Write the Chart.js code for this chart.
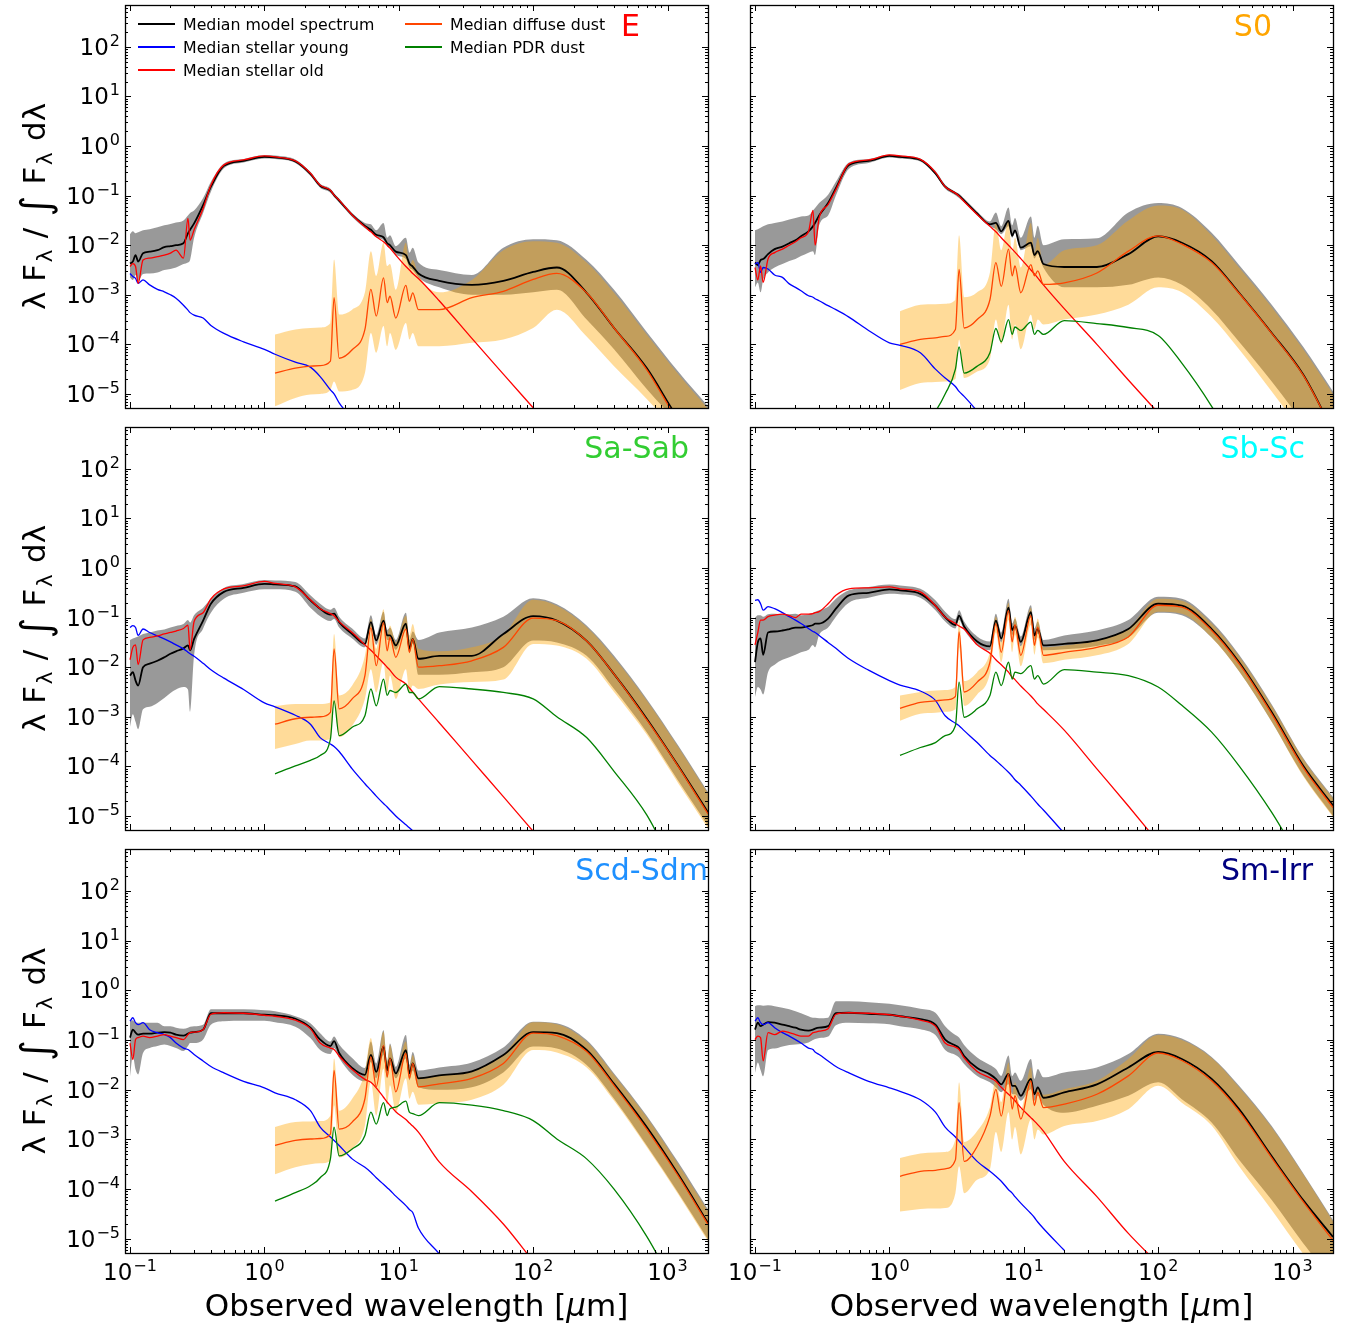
<!DOCTYPE html>
<html>
<head>
<meta charset="utf-8">
<title>Median SEDs per morphological type</title>
<script src="https://cdn.jsdelivr.net/npm/chart.js@4.4.1/dist/chart.umd.min.js"></script>
<style>
  body { margin: 0; background: #fff; }
  #wrap { position: relative; width: 1346px; height: 1324px; overflow: hidden; }
  #wrap canvas { position: absolute; }
</style>
</head>
<body>
<div id="wrap"></div>
<script>
// wavelength grid (micron) for the total model and the stellar components
const WL = [
  0.1, 0.105, 0.11, 0.115, 0.125, 0.14, 0.16, 0.18, 0.2, 0.22,
  0.25, 0.27, 0.28, 0.3, 0.35, 0.4, 0.5, 0.7, 1.0, 1.2,
  1.7, 2.2, 2.6, 3.1, 3.3, 3.6, 4.5, 5.6, 6.2, 6.8,
  7.7, 8.2, 8.6, 9.5, 11.3, 12.0, 12.7, 14, 20, 35,
  60, 100, 150, 250, 400, 700, 1200, 2000
];
// wavelength grid (micron) for the dust components, they start at ~1.2 micron
const WL_DUST = [
  1.2, 1.7, 2.2, 2.6, 3.1, 3.3, 3.6, 4.5, 5.6, 6.2,
  6.8, 7.7, 8.2, 8.6, 9.5, 11.3, 12.0, 12.7, 14, 20,
  35, 60, 100, 150, 250, 400, 700, 1200, 2000
];

// tick labels (powers of ten)
const X_TICK_EXP = [-1, 0, 1, 2, 3];
const Y_TICK_EXP = [-5, -4, -3, -2, -1, 0, 1, 2];

// all series below: log10( lambda F_lambda / int F_lambda dlambda )
// ---------- E ----------
const E_model = [
  -2.37, -2.33, -2.20, -2.33, -2.16, -2.13, -2.10, -2.04, -2.02, -2.00,
  -1.96, -1.76, -1.69, -1.56, -1.19, -0.82, -0.40, -0.30, -0.22, -0.23,
  -0.31, -0.56, -0.80, -0.90, -0.99, -1.10, -1.39, -1.61, -1.69, -1.79,
  -1.84, -1.96, -2.00, -2.13, -2.20, -2.37, -2.43, -2.57, -2.72, -2.80,
  -2.72, -2.54, -2.45, -2.96, -3.67, -4.48, -5.50, -6.30
];
const E_modelLo = [
  -2.65, -2.70, -2.60, -2.72, -2.58, -2.57, -2.55, -2.50, -2.48, -2.45,
  -2.38, -2.35, -2.30, -1.85, -1.35, -0.92, -0.45, -0.33, -0.25, -0.26,
  -0.34, -0.60, -0.84, -0.94, -1.03, -1.14, -1.43, -1.66, -1.74, -1.84,
  -1.90, -2.02, -2.06, -2.20, -2.28, -2.45, -2.50, -2.65, -2.85, -3.00,
  -3.00, -2.95, -2.90, -3.50, -4.10, -4.90, -5.60, -6.30
];
const E_modelHi = [
  -1.78, -1.72, -1.76, -1.74, -1.70, -1.68, -1.64, -1.60, -1.57, -1.54,
  -1.50, -1.40, -1.35, -1.30, -1.05, -0.72, -0.35, -0.26, -0.18, -0.19,
  -0.27, -0.52, -0.76, -0.86, -0.95, -1.06, -1.35, -1.55, -1.58, -1.70,
  -1.55, -1.85, -1.80, -2.02, -1.85, -2.15, -2.05, -2.35, -2.50, -2.60,
  -2.05, -1.88, -1.90, -2.30, -2.90, -3.75, -4.55, -5.25
];
const E_young = [
  -2.57, -2.63, -2.67, -2.77, -2.70, -2.80, -2.89, -2.94, -3.00, -3.07,
  -3.21, -3.31, -3.36, -3.41, -3.47, -3.62, -3.78, -3.95, -4.10, -4.20,
  -4.36, -4.46, -4.65, -4.92, -5.00, -5.18, -5.50, -5.80, -5.95, -6.10,
  null, null, null, null, null, null, null, null, null, null,
  null, null, null, null, null, null, null, null
];
const E_old = [
  -2.43, -2.37, -2.43, -2.77, -2.30, -2.26, -2.23, -2.20, -2.16, -2.10,
  -2.26, -1.46, -1.90, -1.69, -1.26, -0.79, -0.38, -0.28, -0.20, -0.22,
  -0.30, -0.55, -0.79, -0.89, -0.99, -1.09, -1.39, -1.63, -1.73, -1.83,
  -1.93, -2.00, -2.06, -2.20, -2.43, -2.50, -2.57, -2.67, -3.12, -3.88,
  -4.60, -5.28, -5.82, null, null, null, null, null
];
const E_dust = [
  -4.58, -4.48, -4.44, -4.43, -4.34, -3.06, -4.28, -4.11, -3.70, -2.89,
  -3.43, -2.66, -3.16, -3.03, -3.47, -2.81, -3.13, -2.96, -3.30, -3.30,
  -3.06, -2.93, -2.69, -2.57, -2.96, -3.67, -4.51, -5.55, -6.30
];
const E_dustLo = [
  -5.25, -5.08, -5.01, -5.00, -4.92, -4.75, -4.95, -4.92, -4.58, -3.77,
  -4.17, -3.63, -4.04, -3.77, -4.11, -3.57, -3.90, -3.77, -4.04, -4.04,
  -3.97, -3.90, -3.67, -3.30, -3.84, -4.44, -5.10, -5.80, -6.50
];
const E_dustHi = [
  -3.80, -3.70, -3.67, -3.66, -3.57, -2.29, -3.40, -3.30, -2.95, -2.12,
  -2.62, -1.95, -2.42, -2.38, -2.90, -1.95, -2.42, -2.30, -2.60, -2.95,
  -2.70, -2.10, -1.92, -1.95, -2.35, -2.96, -3.80, -4.60, -5.30
];

// ---------- S0 ----------
const S0_model = [
  -2.35, -2.40, -2.30, -2.28, -2.18, -2.08, -2.03, -1.96, -1.90, -1.82,
  -1.72, -1.62, -1.55, -1.40, -1.15, -0.85, -0.38, -0.30, -0.20, -0.22,
  -0.28, -0.55, -0.82, -0.95, -1.00, -1.10, -1.36, -1.58, -1.55, -1.72,
  -1.51, -1.81, -1.70, -2.05, -1.95, -2.20, -2.12, -2.38, -2.44, -2.44,
  -2.18, -1.82, -1.95, -2.32, -2.96, -3.77, -4.61, -5.75
];
const S0_modelLo = [
  -2.85, -2.75, -2.95, -2.70, -2.55, -2.45, -2.38, -2.32, -2.28, -2.22,
  -2.15, -2.12, -2.20, -1.60, -1.40, -1.00, -0.46, -0.34, -0.23, -0.25,
  -0.31, -0.58, -0.86, -0.99, -1.05, -1.14, -1.40, -1.62, -1.68, -1.78,
  -1.62, -1.85, -1.75, -2.10, -2.02, -2.27, -2.18, -2.45, -2.85, -2.85,
  -2.80, -2.65, -2.80, -3.30, -3.95, -4.75, -5.60, -6.50
];
const S0_modelHi = [
  -1.70, -1.68, -1.65, -1.62, -1.58, -1.55, -1.52, -1.48, -1.45, -1.42,
  -1.40, -1.30, -1.25, -1.15, -0.98, -0.72, -0.33, -0.26, -0.17, -0.19,
  -0.25, -0.50, -0.78, -0.92, -0.96, -1.06, -1.32, -1.52, -1.34, -1.62,
  -1.24, -1.60, -1.45, -1.85, -1.42, -1.85, -1.61, -2.00, -1.88, -1.86,
  -1.34, -1.15, -1.25, -1.75, -2.40, -3.20, -4.05, -4.95
];
const S0_young = [
  -2.38, -2.35, -2.55, -2.45, -2.48, -2.60, -2.65, -2.78, -2.85, -2.92,
  -3.02, -3.05, -3.08, -3.12, -3.22, -3.30, -3.45, -3.72, -3.97, -4.02,
  -4.17, -4.50, -4.68, -4.85, -4.95, -5.05, -5.35, -5.70, -5.85, -6.00,
  null, null, null, null, null, null, null, null, null, null,
  null, null, null, null, null, null, null, null
];
const S0_old = [
  -2.45, -2.70, -2.42, -2.75, -2.28, -2.15, -2.08, -2.00, -1.93, -1.85,
  -1.73, -1.30, -2.00, -1.45, -1.18, -0.88, -0.36, -0.28, -0.18, -0.20,
  -0.27, -0.53, -0.82, -0.95, -1.01, -1.12, -1.38, -1.62, -1.73, -1.85,
  -2.00, -2.08, -2.14, -2.27, -2.50, -2.58, -2.66, -2.80, -3.28, -4.00,
  -4.72, -5.38, -5.90, null, null, null, null, null
];
const S0_dust = [
  -4.00, -3.90, -3.87, -3.84, -3.70, -2.49, -3.67, -3.50, -3.10, -2.35,
  -2.83, -2.08, -2.62, -2.42, -2.96, -2.39, -2.62, -2.52, -2.79, -2.76,
  -2.56, -2.12, -1.81, -1.98, -2.35, -2.97, -3.78, -4.62, -5.75
];
const S0_dustLo = [
  -4.92, -4.78, -4.76, -4.75, -4.70, -3.90, -4.68, -4.55, -4.30, -3.50,
  -4.00, -3.20, -3.90, -3.60, -4.10, -3.40, -3.70, -3.50, -3.60, -3.50,
  -3.40, -3.20, -2.85, -2.95, -3.45, -4.10, -4.95, -5.80, -6.60
];
const S0_dustHi = [
  -3.33, -3.20, -3.19, -3.18, -3.10, -1.80, -3.05, -2.95, -2.55, -1.55,
  -2.10, -1.50, -2.15, -1.85, -2.45, -1.55, -2.15, -1.85, -2.40, -2.10,
  -2.00, -1.50, -1.20, -1.28, -1.80, -2.45, -3.25, -4.10, -5.00
];
const S0_pdr = [
  -6.00, -5.70, -5.35, -5.00, -4.50, -4.05, -4.58, -4.44, -4.17, -3.68,
  -3.95, -3.50, -3.80, -3.65, -3.72, -3.55, -3.80, -3.72, -3.80, -3.52,
  -3.58, -3.66, -3.82, -4.38, -5.25, -6.20, null, null, null
];

// ---------- Sa-Sab ----------
const SaSab_model = [
  -2.17, -2.10, -2.27, -2.37, -2.00, -1.93, -1.87, -1.80, -1.73, -1.68,
  -1.62, -1.56, -1.66, -1.43, -1.06, -0.72, -0.48, -0.40, -0.32, -0.33,
  -0.37, -0.65, -0.82, -0.94, -0.92, -1.09, -1.33, -1.53, -1.09, -1.46,
  -1.06, -1.36, -1.36, -1.56, -1.12, -1.63, -1.43, -1.83, -1.77, -1.77,
  -1.33, -0.97, -1.06, -1.47, -2.14, -3.04, -3.99, -4.93
];
const SaSab_modelLo = [
  -3.20, -2.95, -3.10, -3.25, -2.85, -2.80, -2.72, -2.62, -2.52, -2.45,
  -2.40, -2.45, -2.90, -1.75, -1.22, -0.90, -0.62, -0.50, -0.43, -0.43,
  -0.48, -0.80, -0.97, -1.07, -1.03, -1.20, -1.42, -1.60, -1.18, -1.55,
  -1.15, -1.45, -1.45, -1.65, -1.22, -1.72, -1.52, -2.15, -2.15, -2.10,
  -2.00, -1.46, -1.50, -1.77, -2.44, -3.31, -4.29, -5.20
];
const SaSab_modelHi = [
  -1.45, -1.42, -1.40, -1.38, -1.33, -1.30, -1.26, -1.24, -1.20, -1.17,
  -1.13, -1.05, -1.10, -0.95, -0.80, -0.62, -0.40, -0.32, -0.24, -0.25,
  -0.28, -0.55, -0.72, -0.84, -0.80, -0.98, -1.22, -1.42, -0.95, -1.35,
  -0.88, -1.25, -1.20, -1.45, -0.90, -1.45, -1.28, -1.45, -1.30, -1.20,
  -0.98, -0.61, -0.73, -1.16, -1.77, -2.64, -3.58, -4.52
];
const SaSab_young = [
  -1.20, -1.16, -1.20, -1.36, -1.23, -1.30, -1.37, -1.43, -1.49, -1.55,
  -1.63, -1.70, -1.73, -1.78, -1.92, -2.05, -2.22, -2.45, -2.72, -2.80,
  -2.97, -3.15, -3.42, -3.55, -3.60, -3.70, -4.05, -4.35, -4.48, -4.60,
  -4.75, -4.82, -4.88, -5.00, -5.18, -5.24, -5.30, -5.42, null, null,
  null, null, null, null, null, null, null, null
];
const SaSab_old = [
  -1.85, -1.60, -1.55, -1.95, -1.45, -1.40, -1.37, -1.33, -1.30, -1.27,
  -1.22, -1.15, -1.65, -1.08, -0.90, -0.62, -0.42, -0.36, -0.27, -0.31,
  -0.38, -0.64, -0.82, -0.92, -0.96, -1.08, -1.30, -1.55, -1.66, -1.77,
  -1.92, -2.00, -2.06, -2.20, -2.34, -2.42, -2.50, -2.64, -3.12, -3.88,
  -4.61, -5.31, -5.86, null, null, null, null, null
];
const SaSab_dust = [
  -3.15, -3.04, -3.01, -3.00, -2.91, -1.63, -2.84, -2.64, -2.17, -1.20,
  -1.97, -1.10, -1.67, -1.40, -1.80, -1.23, -1.70, -1.43, -2.00, -1.97,
  -1.87, -1.60, -1.01, -1.06, -1.47, -2.14, -3.06, -4.00, -4.96
];
const SaSab_dustLo = [
  -3.65, -3.55, -3.48, -3.48, -3.45, -2.71, -3.41, -3.18, -2.64, -2.04,
  -2.51, -1.90, -2.51, -2.17, -2.64, -2.04, -2.51, -2.37, -2.44, -2.35,
  -2.30, -2.25, -1.53, -1.56, -1.83, -2.50, -3.36, -4.34, -5.25
];
const SaSab_dustHi = [
  -2.78, -2.74, -2.74, -2.74, -2.71, -1.33, -2.57, -2.37, -1.77, -1.03,
  -1.63, -0.83, -1.36, -1.16, -1.50, -0.96, -1.36, -1.13, -1.63, -1.68,
  -1.60, -1.35, -0.64, -0.76, -1.19, -1.81, -2.67, -3.61, -4.55
];
const SaSab_pdr = [
  -4.15, -3.99, -3.88, -3.78, -3.45, -2.68, -3.38, -3.21, -2.98, -2.44,
  -2.78, -2.24, -2.57, -2.47, -2.51, -2.34, -2.51, -2.51, -2.64, -2.39,
  -2.44, -2.51, -2.64, -3.00, -3.42, -4.10, -4.98, -6.20, null
];

// ---------- Sb-Sc ----------
const SbSc_model = [
  -1.90, -1.50, -1.42, -1.75, -1.30, -1.28, -1.26, -1.23, -1.20, -1.20,
  -1.17, -1.15, -1.12, -1.12, -1.02, -0.82, -0.55, -0.50, -0.43, -0.45,
  -0.52, -0.76, -0.99, -1.15, -0.96, -1.18, -1.48, -1.58, -1.06, -1.42,
  -0.80, -1.25, -1.16, -1.49, -0.89, -1.36, -1.23, -1.56, -1.53, -1.46,
  -1.23, -0.72, -0.76, -1.23, -1.90, -2.91, -3.99, -4.79
];
const SbSc_modelLo = [
  -2.60, -2.40, -2.45, -2.55, -2.10, -1.95, -1.85, -1.80, -1.75, -1.70,
  -1.65, -1.55, -1.60, -1.35, -1.20, -0.98, -0.70, -0.60, -0.52, -0.53,
  -0.60, -0.85, -1.08, -1.22, -1.05, -1.25, -1.55, -1.66, -1.15, -1.50,
  -0.90, -1.35, -1.25, -1.58, -1.00, -1.45, -1.32, -1.66, -1.64, -1.57,
  -1.40, -0.90, -0.95, -1.40, -2.08, -3.10, -4.18, -5.00
];
const SbSc_modelHi = [
  -1.00, -0.95, -0.95, -0.98, -0.93, -0.92, -0.93, -0.93, -0.92, -0.95,
  -0.93, -0.90, -0.88, -0.85, -0.78, -0.62, -0.45, -0.38, -0.33, -0.35,
  -0.42, -0.65, -0.88, -1.03, -0.85, -1.08, -1.38, -1.48, -0.92, -1.30,
  -0.62, -1.12, -1.02, -1.38, -0.75, -1.22, -1.08, -1.45, -1.36, -1.26,
  -1.05, -0.58, -0.62, -1.08, -1.75, -2.75, -3.83, -4.62
];
const SbSc_young = [
  -0.65, -0.64, -0.72, -0.85, -0.78, -0.82, -0.90, -0.98, -1.05, -1.12,
  -1.22, -1.28, -1.30, -1.36, -1.50, -1.62, -1.83, -2.06, -2.27, -2.36,
  -2.48, -2.67, -2.98, -3.13, -3.18, -3.28, -3.52, -3.78, -3.88, -3.98,
  -4.12, -4.20, -4.27, -4.38, -4.60, -4.68, -4.76, -4.88, -5.35, null,
  null, null, null, null, null, null, null, null
];
const SbSc_old = [
  -1.55, -1.30, -1.05, -1.05, -0.98, -0.95, -0.93, -0.96, -1.00, -0.93,
  -0.93, -0.92, -0.90, -0.88, -0.72, -0.55, -0.42, -0.40, -0.38, -0.42,
  -0.48, -0.76, -0.99, -1.12, -1.17, -1.23, -1.55, -1.72, -1.85, -1.95,
  -2.10, -2.20, -2.25, -2.38, -2.58, -2.66, -2.74, -2.85, -3.27, -4.05,
  -4.80, -5.53, null, null, null, null, null, null
];
const SbSc_dust = [
  -2.83, -2.71, -2.68, -2.66, -2.59, -1.29, -2.50, -2.30, -1.90, -1.12,
  -1.70, -0.86, -1.49, -1.14, -1.76, -0.96, -1.56, -1.19, -1.76, -1.70,
  -1.60, -1.39, -0.75, -0.79, -1.26, -1.93, -2.94, -4.02, -4.83
];
const SbSc_dustLo = [
  -3.08, -2.94, -2.92, -2.90, -2.85, -1.60, -2.78, -2.55, -2.12, -1.30,
  -1.90, -1.05, -1.70, -1.35, -1.98, -1.15, -1.75, -1.40, -1.92, -1.85,
  -1.76, -1.53, -0.88, -0.92, -1.40, -2.08, -3.10, -4.20, -5.02
];
const SbSc_dustHi = [
  -2.57, -2.50, -2.47, -2.46, -2.40, -1.05, -2.28, -2.10, -1.70, -0.98,
  -1.50, -0.70, -1.30, -0.98, -1.58, -0.80, -1.38, -1.02, -1.60, -1.56,
  -1.46, -1.22, -0.62, -0.66, -1.12, -1.78, -2.78, -3.85, -4.65
];
const SbSc_pdr = [
  -3.78, -3.62, -3.52, -3.38, -3.18, -2.30, -3.01, -2.84, -2.57, -2.10,
  -2.37, -1.90, -2.24, -2.10, -2.13, -1.97, -2.24, -2.17, -2.34, -2.05,
  -2.10, -2.17, -2.40, -2.77, -3.31, -3.99, -4.93, -6.00, null
];

// ---------- Scd-Sdm ----------
const ScdSdm_model = [
  -0.95, -0.79, -0.85, -0.89, -0.87, -0.87, -0.85, -0.84, -0.85, -0.89,
  -0.91, -0.87, -0.85, -0.84, -0.79, -0.46, -0.46, -0.46, -0.49, -0.50,
  -0.57, -0.75, -0.99, -1.12, -1.02, -1.26, -1.56, -1.70, -1.30, -1.64,
  -1.13, -1.61, -1.37, -1.67, -1.20, -1.67, -1.47, -1.77, -1.71, -1.63,
  -1.30, -0.84, -0.86, -1.20, -1.88, -2.75, -3.70, -4.68
];
const ScdSdm_modelLo = [
  -1.73, -1.32, -1.59, -1.69, -1.26, -1.16, -1.12, -1.09, -1.12, -1.16,
  -1.22, -1.12, -1.06, -1.06, -0.99, -0.69, -0.62, -0.61, -0.61, -0.64,
  -0.73, -0.96, -1.20, -1.28, -1.16, -1.36, -1.69, -1.83, -1.44, -1.77,
  -1.30, -1.77, -1.50, -1.77, -1.37, -1.81, -1.61, -1.95, -2.00, -1.95,
  -1.65, -1.13, -1.17, -1.50, -2.18, -3.12, -4.07, -5.01
];
const ScdSdm_modelHi = [
  -0.62, -0.60, -0.65, -0.65, -0.65, -0.65, -0.65, -0.72, -0.72, -0.75,
  -0.77, -0.75, -0.73, -0.72, -0.69, -0.38, -0.38, -0.38, -0.40, -0.42,
  -0.52, -0.66, -0.86, -1.03, -0.93, -1.09, -1.36, -1.56, -1.03, -1.47,
  -0.80, -1.44, -1.07, -1.54, -0.90, -1.50, -1.24, -1.61, -1.55, -1.45,
  -1.15, -0.63, -0.66, -1.00, -1.67, -2.52, -3.46, -4.41
];
const ScdSdm_young = [
  -0.62, -0.55, -0.65, -0.69, -0.65, -0.79, -0.85, -0.89, -0.95, -1.06,
  -1.16, -1.19, -1.22, -1.29, -1.42, -1.53, -1.66, -1.83, -1.96, -2.06,
  -2.20, -2.42, -2.75, -2.95, -3.02, -3.12, -3.39, -3.56, -3.66, -3.77,
  -3.90, -3.97, -4.02, -4.14, -4.33, -4.41, -4.47, -4.78, -5.30, null,
  null, null, null, null, null, null, null, null
];
const ScdSdm_old = [
  -1.06, -1.39, -0.99, -0.95, -0.92, -0.95, -0.92, -0.89, -0.92, -0.95,
  -0.99, -0.89, -0.85, -0.84, -0.79, -0.48, -0.45, -0.46, -0.50, -0.52,
  -0.60, -0.77, -1.06, -1.16, -1.19, -1.32, -1.59, -1.79, -1.85, -1.96,
  -2.15, -2.25, -2.31, -2.44, -2.60, -2.67, -2.73, -2.85, -3.45, -4.05,
  -4.70, -5.45, null, null, null, null, null, null
];
const ScdSdm_dust = [
  -3.12, -3.02, -2.99, -2.98, -2.89, -1.61, -2.79, -2.65, -2.18, -1.34,
  -1.94, -1.11, -1.74, -1.37, -2.04, -1.27, -1.77, -1.47, -1.94, -1.88,
  -1.77, -1.47, -0.86, -0.91, -1.23, -1.91, -2.79, -3.73, -4.71
];
const ScdSdm_dustLo = [
  -3.70, -3.56, -3.50, -3.48, -3.43, -2.31, -3.36, -3.19, -2.72, -1.84,
  -2.52, -1.57, -2.31, -1.91, -2.45, -1.77, -2.18, -2.04, -2.30, -2.27,
  -2.20, -1.90, -1.20, -1.25, -1.55, -2.22, -3.15, -4.10, -5.05
];
const ScdSdm_dustHi = [
  -2.75, -2.65, -2.64, -2.63, -2.52, -1.37, -2.42, -2.18, -1.64, -0.96,
  -1.64, -0.83, -1.44, -1.10, -1.67, -1.03, -1.57, -1.30, -1.75, -1.70,
  -1.62, -1.30, -0.64, -0.68, -1.03, -1.70, -2.55, -3.50, -4.45
];
const ScdSdm_pdr = [
  -4.24, -4.07, -3.93, -3.77, -3.39, -2.75, -3.33, -3.19, -2.92, -2.45,
  -2.69, -2.26, -2.52, -2.38, -2.35, -2.23, -2.45, -2.48, -2.52, -2.26,
  -2.31, -2.42, -2.62, -2.99, -3.39, -4.00, -4.95, -6.10, null
];

// ---------- Sm-Irr ----------
const SmIrr_model = [
  -0.79, -0.65, -0.72, -0.69, -0.64, -0.65, -0.69, -0.72, -0.75, -0.79,
  -0.81, -0.79, -0.77, -0.75, -0.72, -0.46, -0.45, -0.47, -0.49, -0.52,
  -0.58, -0.69, -0.99, -1.11, -1.16, -1.32, -1.56, -1.69, -1.78, -1.89,
  -1.68, -1.92, -1.92, -2.12, -1.78, -2.09, -1.95, -2.16, -2.05, -1.89,
  -1.55, -1.24, -1.38, -1.78, -2.39, -3.34, -4.22, -4.96
];
const SmIrr_modelLo = [
  -1.66, -1.45, -1.60, -1.73, -1.20, -1.17, -1.13, -1.10, -1.09, -1.08,
  -1.05, -1.00, -0.98, -0.96, -0.93, -0.70, -0.65, -0.66, -0.68, -0.72,
  -0.78, -0.90, -1.20, -1.30, -1.35, -1.48, -1.72, -1.85, -1.95, -2.05,
  -1.89, -2.09, -2.09, -2.22, -1.99, -2.22, -2.12, -2.30, -2.46, -2.32,
  -2.12, -1.85, -2.19, -2.66, -3.41, -4.22, -5.09, -5.84
];
const SmIrr_modelHi = [
  -0.32, -0.30, -0.30, -0.31, -0.30, -0.32, -0.35, -0.38, -0.42, -0.46,
  -0.52, -0.55, -0.55, -0.56, -0.55, -0.22, -0.22, -0.24, -0.27, -0.30,
  -0.37, -0.45, -0.72, -0.90, -0.95, -1.10, -1.35, -1.50, -1.58, -1.72,
  -1.31, -1.72, -1.65, -1.82, -1.38, -1.78, -1.58, -1.75, -1.65, -1.55,
  -1.28, -0.87, -0.97, -1.34, -1.92, -2.73, -3.68, -4.62
];
const SmIrr_young = [
  -0.62, -0.55, -0.65, -0.69, -0.65, -0.75, -0.85, -0.92, -0.99, -1.06,
  -1.16, -1.19, -1.24, -1.29, -1.42, -1.53, -1.66, -1.83, -1.96, -2.03,
  -2.20, -2.45, -2.75, -2.95, -3.03, -3.15, -3.44, -3.64, -3.74, -3.84,
  -4.01, -4.08, -4.15, -4.28, -4.49, -4.57, -4.66, -4.79, -5.23, null,
  null, null, null, null, null, null, null, null
];
const SmIrr_old = [
  -0.99, -0.92, -0.95, -1.42, -0.85, -0.89, -0.82, -0.85, -0.89, -0.92,
  -0.92, -0.85, -0.84, -0.82, -0.77, -0.48, -0.45, -0.46, -0.49, -0.52,
  -0.60, -0.72, -1.06, -1.14, -1.19, -1.36, -1.63, -1.76, -1.83, -1.95,
  -2.09, -2.16, -2.22, -2.36, -2.56, -2.63, -2.70, -2.83, -3.44, -4.15,
  -4.89, -5.50, null, null, null, null, null, null
];
const SmIrr_dust = [
  -3.74, -3.64, -3.62, -3.59, -3.41, -2.26, -3.44, -3.14, -2.53, -1.99,
  -2.53, -1.68, -2.39, -2.12, -2.59, -1.82, -2.32, -2.05, -2.36, -2.29,
  -2.09, -1.72, -1.26, -1.41, -1.82, -2.43, -3.37, -4.25, -5.03
];
const SmIrr_dustLo = [
  -4.45, -4.40, -4.39, -4.38, -4.08, -3.54, -4.08, -3.81, -3.60, -2.85,
  -3.25, -2.45, -3.00, -2.75, -3.30, -2.60, -3.00, -2.80, -2.90, -2.73,
  -2.63, -2.39, -1.92, -2.26, -2.72, -3.54, -4.42, -5.30, -6.00
];
const SmIrr_dustHi = [
  -3.37, -3.28, -3.26, -3.25, -3.00, -1.85, -3.05, -2.83, -2.35, -1.80,
  -2.25, -1.45, -2.10, -1.85, -2.40, -1.55, -2.20, -1.95, -2.10, -1.99,
  -1.82, -1.38, -0.90, -1.00, -1.36, -1.95, -2.76, -3.70, -4.65
];

// axis limits
const X_MIN = 0.0918, X_MAX = 2000;
const Y_MIN = 5.2e-6, Y_MAX = 700;

// colours
const C_MODEL = "#000000", C_YOUNG = "#0000ff", C_OLD = "#ff0000";
const C_DUST = "#ff4500", C_PDR = "#008000";
const GRAY_FILL = "rgba(128,128,128,0.8)";
const ORANGE_FILL = "rgba(255,165,0,0.4)";

const FONT = '"DejaVu Sans"';
const TICK_FONT = "23px " + FONT;
const SUP_FONT = "16px " + FONT;

// page layout of the 2x3 grid (canvas boxes and plot-frame padding)
const COLS = [
  { left: 0, width: 720, padL: 125, padR: 12 },
  { left: 720, width: 626, padL: 30, padR: 13 }
];
const ROWS = [
  { top: 0, height: 418, padT: 5, padB: 10 },
  { top: 418, height: 422, padT: 9, padB: 10 },
  { top: 840, height: 484, padT: 9, padB: 71 }
];

const PANELS = [
  { name: "E", color: "#ff0000", labelRight: 640, row: 0, col: 0, legend: true,
    model: E_model, modelLo: E_modelLo, modelHi: E_modelHi, young: E_young, old: E_old,
    dust: E_dust, dustLo: E_dustLo, dustHi: E_dustHi, pdr: null },
  { name: "S0", color: "#ffa500", labelRight: 1272, row: 0, col: 1,
    model: S0_model, modelLo: S0_modelLo, modelHi: S0_modelHi, young: S0_young, old: S0_old,
    dust: S0_dust, dustLo: S0_dustLo, dustHi: S0_dustHi, pdr: S0_pdr },
  { name: "Sa-Sab", color: "#32cd32", labelRight: 689, row: 1, col: 0,
    model: SaSab_model, modelLo: SaSab_modelLo, modelHi: SaSab_modelHi, young: SaSab_young, old: SaSab_old,
    dust: SaSab_dust, dustLo: SaSab_dustLo, dustHi: SaSab_dustHi, pdr: SaSab_pdr },
  { name: "Sb-Sc", color: "#00ffff", labelRight: 1305, row: 1, col: 1,
    model: SbSc_model, modelLo: SbSc_modelLo, modelHi: SbSc_modelHi, young: SbSc_young, old: SbSc_old,
    dust: SbSc_dust, dustLo: SbSc_dustLo, dustHi: SbSc_dustHi, pdr: SbSc_pdr },
  { name: "Scd-Sdm", color: "#1e90ff", labelRight: 708, row: 2, col: 0,
    model: ScdSdm_model, modelLo: ScdSdm_modelLo, modelHi: ScdSdm_modelHi, young: ScdSdm_young, old: ScdSdm_old,
    dust: ScdSdm_dust, dustLo: ScdSdm_dustLo, dustHi: ScdSdm_dustHi, pdr: ScdSdm_pdr },
  { name: "Sm-Irr", color: "#000080", labelRight: 1313, row: 2, col: 1,
    model: SmIrr_model, modelLo: SmIrr_modelLo, modelHi: SmIrr_modelHi, young: SmIrr_young, old: SmIrr_old,
    dust: SmIrr_dust, dustLo: SmIrr_dustLo, dustHi: SmIrr_dustHi, pdr: null }
];

// legend slots in panel E (line start x, text x, row y)
const LEGEND_SLOTS = [
  { x: 138, tx: 183, y: 24 }, { x: 138, tx: 183, y: 47 }, { x: 138, tx: 183, y: 70 },
  { x: 405, tx: 450, y: 24 }, { x: 405, tx: 450, y: 47 }
];

function toPoints(xs, logs) {
  if (!logs) return [];
  return xs.map((x, i) => ({ x: x, y: logs[i] === null ? null : Math.pow(10, logs[i]) }));
}

function lineSet(label, xs, logs, color, width, order) {
  return {
    label: label, data: toPoints(xs, logs), borderColor: color, backgroundColor: color,
    borderWidth: width, pointRadius: 0, fill: false, order: order, clip: 0, spanGaps: false,
    cubicInterpolationMode: "monotone"
  };
}

function bandSet(xs, logs, order, fillColor) {
  const ds = {
    label: "", data: toPoints(xs, logs), borderColor: "rgba(0,0,0,0)", borderWidth: 0,
    pointRadius: 0, fill: false, order: order, clip: 0, cubicInterpolationMode: "monotone"
  };
  if (fillColor) {
    ds.fill = "-1";
    ds.backgroundColor = fillColor;
  }
  return ds;
}

function drawPow(ctx, exp, x, y, align) {
  const base = "10";
  const sup = exp < 0 ? "\u2212" + Math.abs(exp) : String(exp);
  ctx.font = TICK_FONT;
  const wb = ctx.measureText(base).width;
  ctx.font = SUP_FONT;
  const ws = ctx.measureText(sup).width;
  const w = wb + 1 + ws;
  const x0 = align === "right" ? x - w : x - w / 2;
  ctx.textAlign = "left";
  ctx.textBaseline = "alphabetic";
  ctx.font = TICK_FONT;
  ctx.fillText(base, x0, y);
  ctx.font = SUP_FONT;
  ctx.fillText(sup, x0 + wb + 1, y - 9);
}

function drawYTitle(ctx, x, cy) {
  // lambda F_lambda / int F_lambda dlambda, rotated
  const parts = [
    ["\u03bb F", 31, 0], ["\u03bb", 22, 7], [" / ", 31, 0], ["\u222b", 40, 4],
    [" F", 31, 0], ["\u03bb", 22, 7], [" d\u03bb", 31, 0]
  ];
  let total = 0;
  const widths = parts.map(p => {
    ctx.font = p[1] + "px " + FONT;
    const w = ctx.measureText(p[0]).width;
    total += w;
    return w;
  });
  const gap = Math.max(0, (207 - total) / (parts.length - 1));
  total += gap * (parts.length - 1);
  ctx.save();
  ctx.translate(x, cy);
  ctx.rotate(-Math.PI / 2);
  ctx.textAlign = "left";
  ctx.textBaseline = "alphabetic";
  let px = -total / 2;
  parts.forEach((p, i) => {
    ctx.font = p[1] + "px " + FONT;
    ctx.fillText(p[0], px, p[2]);
    px += widths[i] + gap;
  });
  ctx.restore();
}

function drawXTitle(ctx, cx, y) {
  const parts = [
    ["Observed wavelength [", "31px " + FONT],
    ["\u03bc", "italic 31px " + FONT],
    ["m]", "31px " + FONT]
  ];
  let total = 0;
  const widths = parts.map(p => {
    ctx.font = p[1];
    const w = ctx.measureText(p[0]).width;
    total += w;
    return w;
  });
  ctx.textAlign = "left";
  ctx.textBaseline = "alphabetic";
  let px = cx - total / 2;
  parts.forEach((p, i) => {
    ctx.font = p[1];
    ctx.fillText(p[0], px, y);
    px += widths[i];
  });
}

function makeAxesPlugin(panel, col, row) {
  return {
    id: "sedAxes",
    afterDraw(chart) {
      const ctx = chart.ctx;
      const a = chart.chartArea;
      const sx = chart.scales.x, sy = chart.scales.y;
      ctx.save();
      ctx.strokeStyle = "#000";
      ctx.fillStyle = "#000";

      // inward ticks on all four sides
      ctx.lineWidth = 1;
      ctx.beginPath();
      for (let e = -2; e <= 3; e++) {
        for (let k = 1; k <= 9; k++) {
          const v = k * Math.pow(10, e);
          if (v < X_MIN || v > X_MAX) continue;
          const len = k === 1 ? 6 : 3;
          const px = Math.round(sx.getPixelForValue(v)) + 0.5;
          ctx.moveTo(px, a.bottom); ctx.lineTo(px, a.bottom - len);
          ctx.moveTo(px, a.top); ctx.lineTo(px, a.top + len);
        }
      }
      for (let e = -6; e <= 2; e++) {
        for (let k = 1; k <= 9; k++) {
          const v = k * Math.pow(10, e);
          if (v < Y_MIN || v > Y_MAX) continue;
          const len = k === 1 ? 6 : 3;
          const py = Math.round(sy.getPixelForValue(v)) + 0.5;
          ctx.moveTo(a.left, py); ctx.lineTo(a.left + len, py);
          ctx.moveTo(a.right, py); ctx.lineTo(a.right - len, py);
        }
      }
      ctx.stroke();

      // frame
      ctx.lineWidth = 1.3;
      ctx.strokeRect(Math.round(a.left) + 0.5, Math.round(a.top) + 0.5,
        Math.round(a.right - a.left), Math.round(a.bottom - a.top));

      // tick labels
      if (panel.col === 0) {
        Y_TICK_EXP.forEach(e => {
          const py = sy.getPixelForValue(Math.pow(10, e));
          drawPow(ctx, e, a.left - 5, py + 8, "right");
        });
        drawYTitle(ctx, 45, (a.top + a.bottom) / 2);
      }
      if (panel.row === 2) {
        X_TICK_EXP.forEach(e => {
          const px = sx.getPixelForValue(Math.pow(10, e));
          drawPow(ctx, e, px, a.bottom + 27, "center");
        });
        drawXTitle(ctx, (a.left + a.right) / 2, a.bottom + 63);
      }

      // type label
      ctx.font = "30px " + FONT;
      ctx.textAlign = "right";
      ctx.textBaseline = "alphabetic";
      ctx.fillStyle = panel.color;
      ctx.fillText(panel.name, panel.labelRight - col.left, a.top + 31);

      // legend (first panel only)
      if (panel.legend) {
        const items = chart.data.datasets.filter(d => d.label);
        items.sort((p, q) => p.legendRank - q.legendRank);
        ctx.font = "15.8px " + FONT;
        ctx.textAlign = "left";
        ctx.textBaseline = "alphabetic";
        items.forEach((d, i) => {
          const s = LEGEND_SLOTS[i];
          ctx.strokeStyle = d.borderColor;
          ctx.lineWidth = 2;
          ctx.beginPath();
          ctx.moveTo(s.x, s.y);
          ctx.lineTo(s.x + 37, s.y);
          ctx.stroke();
          ctx.fillStyle = "#000";
          ctx.fillText(d.label, s.tx, s.y + 5.5);
        });
      }
      ctx.restore();
    }
  };
}

const wrap = document.getElementById("wrap");

PANELS.forEach(panel => {
  const col = COLS[panel.col];
  const row = ROWS[panel.row];
  const canvas = document.createElement("canvas");
  canvas.width = col.width;
  canvas.height = row.height;
  canvas.style.left = col.left + "px";
  canvas.style.top = row.top + "px";
  canvas.style.width = col.width + "px";
  canvas.style.height = row.height + "px";
  wrap.appendChild(canvas);

  const model = lineSet("Median model spectrum", WL, panel.model, C_MODEL, 1.8, 5);
  const young = lineSet("Median stellar young", WL, panel.young, C_YOUNG, 1.3, 4);
  const old = lineSet("Median stellar old", WL, panel.old, C_OLD, 1.3, 3);
  const dust = lineSet("Median diffuse dust", WL_DUST, panel.dust, C_DUST, 1.3, 2);
  const pdr = lineSet("Median PDR dust", WL_DUST, panel.pdr, C_PDR, 1.3, 1);
  model.legendRank = 0; young.legendRank = 1; old.legendRank = 2;
  dust.legendRank = 3; pdr.legendRank = 4;

  const datasets = [
    bandSet(WL, panel.modelLo, 20, null),
    bandSet(WL, panel.modelHi, 20, GRAY_FILL),
    bandSet(WL_DUST, panel.dustLo, 19, null),
    bandSet(WL_DUST, panel.dustHi, 19, ORANGE_FILL),
    model, young, old, dust, pdr
  ];

  new Chart(canvas, {
    type: "line",
    data: { datasets: datasets },
    options: {
      responsive: false,
      animation: false,
      devicePixelRatio: 1,
      events: [],
      layout: { padding: { left: col.padL, right: col.padR, top: row.padT, bottom: row.padB } },
      scales: {
        x: { type: "logarithmic", min: X_MIN, max: X_MAX, display: false, bounds: "data" },
        y: { type: "logarithmic", min: Y_MIN, max: Y_MAX, display: false, bounds: "data" }
      },
      plugins: {
        legend: { display: false },
        tooltip: { enabled: false }
      }
    },
    plugins: [makeAxesPlugin(panel, col, row)]
  });
});
</script>
</body>
</html>
